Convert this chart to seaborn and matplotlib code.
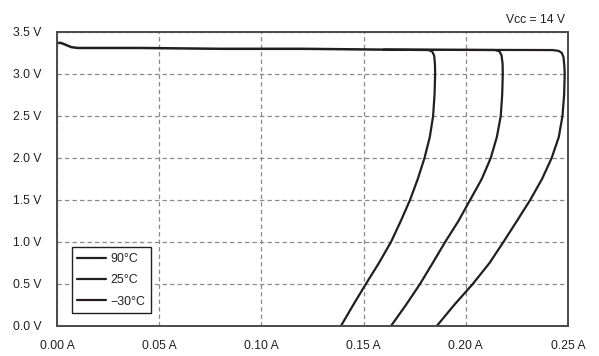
import numpy as np
import pandas as pd
import matplotlib
matplotlib.use("Agg")
import matplotlib.pyplot as plt
import seaborn as sns

# Output current (A) vs output voltage (V)
plateau_i = [0.000, 0.002, 0.004, 0.007, 0.010, 0.040, 0.080, 0.120, 0.140, 0.160]
plateau_v = [3.37, 3.37, 3.35, 3.32, 3.31, 3.31, 3.30, 3.30, 3.295, 3.29]

i_90 = [0.160, 0.1815, 0.1835, 0.1845, 0.1849, 0.1850, 0.1847, 0.1840, 0.1824, 0.1798, 0.1765,
        0.1727, 0.1682, 0.1634, 0.1575, 0.1511, 0.1449, 0.1389]
v_90 = [3.29, 3.285, 3.27, 3.22, 3.12, 3.00, 2.75, 2.50, 2.25, 2.00, 1.75,
        1.50, 1.25, 1.00, 0.75, 0.50, 0.25, 0.00]

i_25 = [0.160, 0.2143, 0.2165, 0.2175, 0.2180, 0.2181, 0.2178, 0.2171, 0.2152, 0.2122, 0.2078,
        0.2021, 0.1964, 0.1899, 0.1838, 0.1776, 0.1707, 0.1634]
v_25 = [3.29, 3.285, 3.27, 3.22, 3.12, 3.00, 2.75, 2.50, 2.25, 2.00, 1.75,
        1.50, 1.25, 1.00, 0.75, 0.50, 0.25, 0.00]

i_m30 = [0.160, 0.2425, 0.2455, 0.2470, 0.2478, 0.2482, 0.2484, 0.2481, 0.2473, 0.2455, 0.2420,
         0.2373, 0.2315, 0.2250, 0.2184, 0.2116, 0.2034, 0.1943, 0.1858]
v_m30 = [3.29, 3.285, 3.275, 3.25, 3.20, 3.10, 3.00, 2.75, 2.50, 2.25, 2.00,
         1.75, 1.50, 1.25, 1.00, 0.75, 0.50, 0.25, 0.00]

labels = ["90°C", "25°C", "\u221230°C"]
x_ticks = [0.00, 0.05, 0.10, 0.15, 0.20, 0.25]
y_ticks = [0.0, 0.5, 1.0, 1.5, 2.0, 2.5, 3.0, 3.5]

sns.set_style("white")
plt.rcParams['font.family'] = ['Liberation Sans', 'DejaVu Sans']

ink = "#231f20"
fig = plt.figure(figsize=(5.99, 3.56), dpi=100)
ax = fig.add_axes([57 / 599, 1 - 326 / 356, 511 / 599, 294 / 356])

sns.lineplot(x=plateau_i, y=plateau_v, sort=False, estimator=None, color=ink, lw=1.8, ax=ax)
for xs, ys, lab in zip([i_90, i_25, i_m30], [v_90, v_25, v_m30], labels):
    sns.lineplot(x=xs, y=ys, sort=False, estimator=None, color=ink, lw=1.6, label=lab, ax=ax)

ax.set_xlim(0, 0.25)
ax.set_ylim(0, 3.5)
ax.set_xticks(x_ticks)
ax.set_yticks(y_ticks)
ax.set_xticklabels([f"{t:.2f} A" for t in x_ticks])
ax.set_yticklabels([f"{t:.1f} V" for t in y_ticks])
ax.tick_params(axis="both", length=0, labelsize=8.7, colors=ink)
ax.tick_params(axis="x", pad=10)
ax.tick_params(axis="y", pad=11)

ax.grid(True, color="#8a8a8a", linestyle=(0, (3.5, 2.5)), lw=0.9)
for s in ax.spines.values():
    s.set_color("#4a4a4a")
    s.set_linewidth(1.4)

leg = ax.legend(loc="lower left", bbox_to_anchor=(0.029, 0.044), fontsize=8.9,
                frameon=True, fancybox=False, handlelength=2.3, handletextpad=0.35,
                borderpad=0.45, labelspacing=0.75, borderaxespad=0)
leg.get_frame().set_edgecolor(ink)
leg.get_frame().set_linewidth(1.0)
leg.get_frame().set_alpha(1)
for t in leg.get_texts():
    t.set_color(ink)

fig.text(565 / 599, 1 - 20 / 356, "Vcc = 14 V", ha="right", va="center", fontsize=8.7, color=ink)

fig.savefig("out.png", dpi=100)
